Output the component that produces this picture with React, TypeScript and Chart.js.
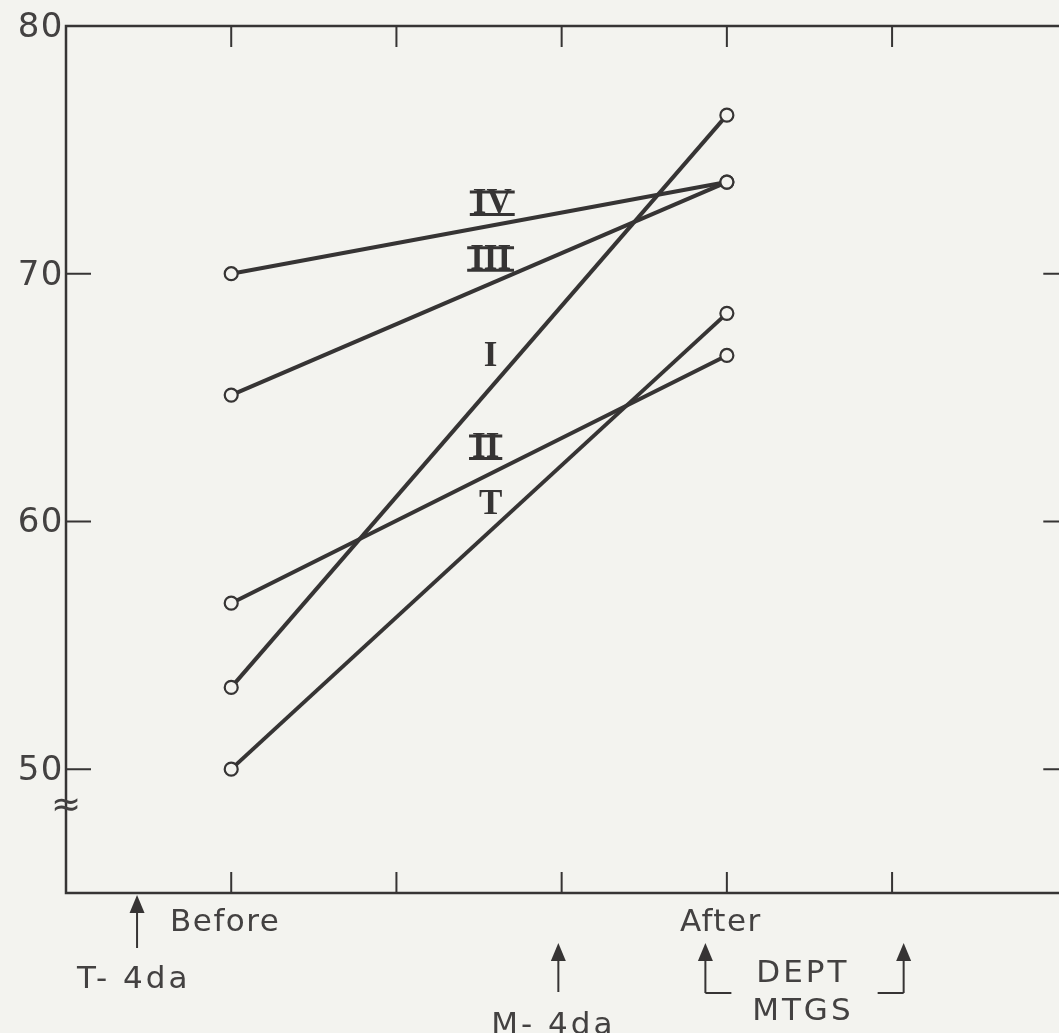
import React, { useEffect, useRef } from "react";
import { Chart, registerables } from "chart.js";

Chart.register(...registerables);

// ---- data ----
const seriesNames = ["I", "II", "III", "IV", "T"];
const beforeValues = [53.3, 56.7, 65.1, 70.0, 50.0];
const afterValues = [76.4, 66.7, 73.7, 73.7, 68.4];
const phaseLabels = ["Before", "After"];
const phaseX = [1, 4];
const xTickValues = [1, 2, 3, 4, 5];
const yTickValues = [50, 60, 70, 80];
const seriesLabelX = [2.57, 2.54, 2.57, 2.58, 2.57];
const seriesLabelY = [66.7, 63.0, 70.6, 72.85, 60.7];
const noteTexts = ["T- 4da", "M- 4da", "DEPT", "MTGS"];
const noteX = [0.41, 2.95, 4.46, 4.46];
const arrowX = [0.43, 2.98, 3.87, 5.07];

const BG = "#f3f3ef";
const INK = "#363434";
const TEXT = "#434141";
const FONT = "'DejaVu Sans', sans-serif";

const decorPlugin = {
  id: "decor",
  beforeDraw(chart: any) {
    const { ctx, width, height } = chart;
    ctx.save();
    ctx.fillStyle = BG;
    ctx.fillRect(0, 0, width, height);
    ctx.restore();
  },
  beforeDatasetsDraw(chart: any) {
    const { ctx, chartArea: a, scales } = chart;
    const xs = scales.x;
    const ys = scales.y;
    ctx.save();
    ctx.strokeStyle = INK;
    ctx.lineCap = "butt";
    // frame (right side lies off the page)
    ctx.lineWidth = 2.5;
    ctx.beginPath();
    ctx.moveTo(a.right + 10, a.top);
    ctx.lineTo(a.left, a.top);
    ctx.lineTo(a.left, a.bottom);
    ctx.lineTo(a.right + 10, a.bottom);
    ctx.stroke();
    // ticks
    ctx.lineWidth = 2;
    ctx.beginPath();
    xTickValues.forEach((v) => {
      const px = xs.getPixelForValue(v);
      ctx.moveTo(px, a.bottom);
      ctx.lineTo(px, a.bottom - 21);
      ctx.moveTo(px, a.top);
      ctx.lineTo(px, a.top + 21);
    });
    yTickValues.forEach((v) => {
      const py = ys.getPixelForValue(v);
      if (v < 80) {
        ctx.moveTo(a.left, py);
        ctx.lineTo(a.left + 25, py);
        ctx.moveTo(a.right + 10, py);
        ctx.lineTo(a.right - 14, py);
      }
    });
    ctx.stroke();

    // y labels
    ctx.fillStyle = TEXT;
    ctx.font = `34px ${FONT}`;
    (ctx as any).letterSpacing = "1.5px";
    ctx.textAlign = "right";
    ctx.textBaseline = "middle";
    yTickValues.forEach((v) => {
      const py = ys.getPixelForValue(v);
      ctx.fillText(String(v), a.left - 2, py + 2);
    });

    // axis break symbol
    (ctx as any).letterSpacing = "0px";
    ctx.textAlign = "center";
    ctx.font = `36px ${FONT}`;
    ctx.fillText("\u2248", a.left, ys.getPixelForValue(48.5));

    // x phase labels
    ctx.font = `31px ${FONT}`;
    (ctx as any).letterSpacing = "1.5px";
    ctx.textBaseline = "alphabetic";
    phaseLabels.forEach((t, i) => {
      ctx.fillText(t, xs.getPixelForValue(phaseX[i]) - 6, a.bottom + 38);
    });

    // arrows
    const drawArrow = (x: number, tip: number, end: number) => {
      ctx.beginPath();
      ctx.moveTo(x, tip);
      ctx.lineTo(x - 7.5, tip + 18);
      ctx.lineTo(x + 7.5, tip + 18);
      ctx.closePath();
      ctx.fill();
      ctx.beginPath();
      ctx.moveTo(x, tip + 12);
      ctx.lineTo(x, end);
      ctx.stroke();
    };
    ctx.fillStyle = INK;
    ctx.lineWidth = 2;
    const ax = arrowX.map((v) => xs.getPixelForValue(v));
    drawArrow(ax[0], a.bottom + 2, a.bottom + 55);
    drawArrow(ax[1], a.bottom + 50, a.bottom + 99);
    drawArrow(ax[2], a.bottom + 50, a.bottom + 100);
    drawArrow(ax[3], a.bottom + 50, a.bottom + 100);
    ctx.beginPath();
    ctx.moveTo(ax[2], a.bottom + 100);
    ctx.lineTo(ax[2] + 26, a.bottom + 100);
    ctx.moveTo(ax[3], a.bottom + 100);
    ctx.lineTo(ax[3] - 26, a.bottom + 100);
    ctx.stroke();

    // note texts
    ctx.fillStyle = TEXT;
    ctx.font = `31px ${FONT}`;
    (ctx as any).letterSpacing = "3px";
    ctx.textAlign = "center";
    const noteBase = [95, 141, 89, 127];
    noteTexts.forEach((t, i) => {
      ctx.fillText(t, xs.getPixelForValue(noteX[i]), a.bottom + noteBase[i]);
    });

    // series labels (roman numerals)
    (ctx as any).letterSpacing = "0px";
    ctx.font = `bold 35px 'Liberation Serif', 'DejaVu Serif', serif`;
    ctx.textBaseline = "middle";
    ctx.fillStyle = INK;
    seriesNames.forEach((name, i) => {
      const px = xs.getPixelForValue(seriesLabelX[i]);
      const py = ys.getPixelForValue(seriesLabelY[i]);
      ctx.fillText(name, px, py + 1);
      if (name.length > 1) {
        const w = ctx.measureText(name).width;
        ctx.lineWidth = 3;
        ctx.beginPath();
        ctx.moveTo(px - w / 2 - 3, py - 11);
        ctx.lineTo(px + w / 2 + 3, py - 11);
        ctx.moveTo(px - w / 2 - 3, py + 11.5);
        ctx.lineTo(px + w / 2 + 3, py + 11.5);
        ctx.stroke();
      }
    });
    ctx.restore();
  },
};

export default function App() {
  const ref = useRef<HTMLCanvasElement | null>(null);
  useEffect(() => {
    if (!ref.current) return;
    const datasets = seriesNames.map((name, i) => ({
      label: name,
      data: [
        { x: phaseX[0], y: beforeValues[i] },
        { x: phaseX[1], y: afterValues[i] },
      ],
      borderColor: INK,
      borderWidth: 4,
      pointRadius: 6.5,
      pointBorderWidth: 2.2,
      pointBackgroundColor: BG,
      pointBorderColor: INK,
      showLine: true,
      fill: false,
    }));
    const chart = new Chart(ref.current, {
      type: "scatter",
      data: { datasets },
      options: {
        animation: false,
        responsive: false,
        devicePixelRatio: 1,
        layout: { padding: { left: 66, top: 26, right: 0, bottom: 140 } },
        plugins: { legend: { display: false }, tooltip: { enabled: false } },
        scales: {
          x: { type: "linear", min: 0, max: 6, display: false },
          y: { type: "linear", min: 45, max: 80, display: false },
        },
      },
      plugins: [decorPlugin],
    } as any);
    return () => chart.destroy();
  }, []);
  return (
    <div
      style={{
        position: "fixed",
        left: 0,
        top: 0,
        width: 1059,
        height: 1033,
        overflow: "hidden",
        background: BG,
      }}
    >
      <canvas ref={ref} width={1066} height={1033} style={{ display: "block" }} />
    </div>
  );
}
